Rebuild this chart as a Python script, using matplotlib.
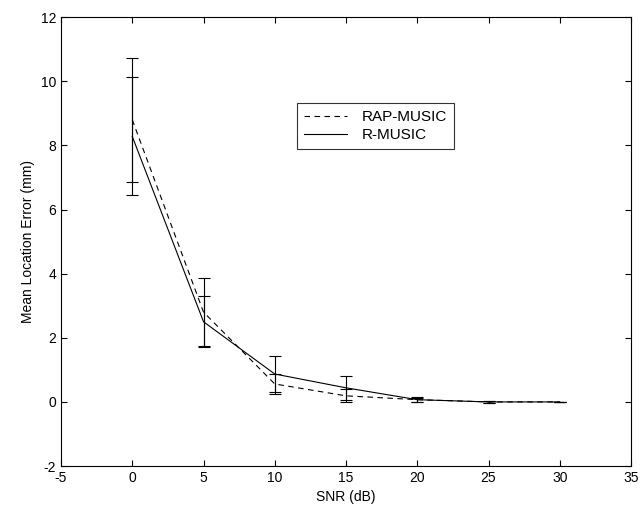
import matplotlib.pyplot as plt
from matplotlib.lines import Line2D
import numpy as np

plt.rcParams['font.family'] = ['Liberation Sans', 'DejaVu Sans']
plt.rcParams['font.size'] = 10
plt.rcParams['axes.unicode_minus'] = False

snr = [0, 5, 10, 15, 20, 25, 30]
rap_music = [8.8, 2.8, 0.56, 0.19, 0.07, 0.0, 0.0]
rap_err = [1.93, 1.05, 0.30, 0.20, 0.07, 0.02, 0.01]
r_music = [8.28, 2.5, 0.87, 0.44, 0.07, 0.0, 0.0]
r_err = [1.84, 0.80, 0.57, 0.37, 0.06, 0.02, 0.01]

fig = plt.figure(figsize=(6.42, 5.19), dpi=100)
ax = fig.add_axes([0.095, 0.102, 0.888, 0.865])

dash = (0, (5, 4))
ax.errorbar(snr, rap_music, yerr=rap_err, color="black", linestyle=dash,
            linewidth=0.8, elinewidth=0.8, capsize=4, capthick=0.8)
ax.errorbar(snr, r_music, yerr=r_err, color="black", linestyle="-",
            linewidth=0.8, elinewidth=0.8, capsize=4, capthick=0.8)

ax.set_xlim(-5, 35)
ax.set_ylim(-2, 12)
ax.set_xticks(np.arange(-5, 36, 5))
ax.set_yticks(np.arange(-2, 13, 2))
ax.tick_params(direction="in", top=True, right=True, length=4)
ax.set_xlabel("SNR (dB)")
ax.set_ylabel("Mean Location Error (mm)")

handles = [Line2D([], [], color="black", linestyle=dash, linewidth=0.8),
           Line2D([], [], color="black", linestyle="-", linewidth=0.8)]
leg = ax.legend(handles, ["RAP-MUSIC", "R-MUSIC"], loc="upper left",
                bbox_to_anchor=(0.414, 0.808), frameon=True, fontsize=11,
                fancybox=False, edgecolor="black", borderaxespad=0,
                handlelength=2.8, handletextpad=1.0, labelspacing=0.25,
                borderpad=0.45)
leg.get_frame().set_linewidth(0.8)

fig.savefig("out.png", dpi=100)
